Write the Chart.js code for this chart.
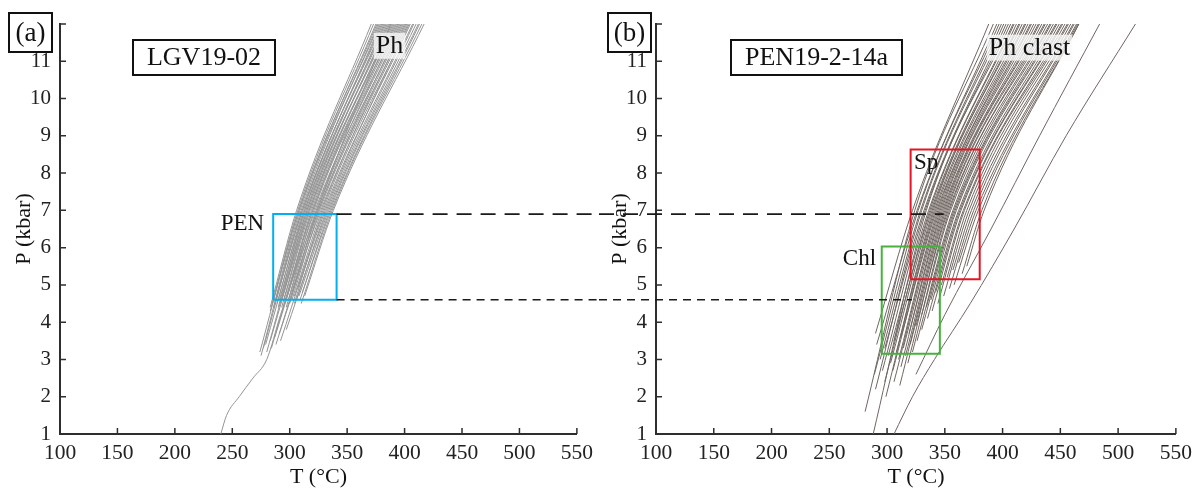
<!DOCTYPE html>
<html>
<head>
<meta charset="utf-8">
<script src="https://cdn.jsdelivr.net/npm/chart.js@4.4.0/dist/chart.umd.min.js"></script>
<style>
  body { margin: 0; background: #fff; }
  #wrap { position: relative; width: 1198px; height: 490px; }
  .panel { position: absolute; top: 0; width: 599px; height: 490px; }
</style>
</head>
<body>
<div id="wrap">
  <div class="panel" style="left:0"><canvas id="chartA"></canvas></div>
  <div class="panel" style="left:599px"><canvas id="chartB"></canvas></div>
</div>
<script>
// axes
const tMin = 100, tMax = 550, tStep = 50;
const pMin = 1, pMax = 12, pStep = 1;

// (a) LGV19-02 : phengite isochores, start point + T at 7 and 12 kbar
const phA_P0  = [4.4, 4.3, 3.2, 4.5, 3.1, 4.4, 4.6, 3.3, 4.5, 4.4, 3.4, 4.6, 4.5, 3.2, 4.7, 4.4, 3.5, 4.6, 4.5, 3.3, 4.7, 4.4, 3.6, 4.6, 4.5, 3.4, 4.8, 4.6, 3.7, 4.7, 4.5, 3.5, 4.9, 4.6, 3.8, 4.7, 4.6, 4.8, 4.5, 4.7];
const phA_T0  = [283, 283, 274, 285, 275, 286, 288, 277, 289, 290, 279, 291, 292, 280, 294, 293, 283, 295, 296, 284, 298, 297, 287, 299, 300, 288, 302, 302, 291, 304, 304, 292, 307, 306, 297, 308, 309, 311, 310, 313];
const phA_T7  = [306, 307, 308, 308, 309, 310, 311, 311, 312, 313, 313, 314, 315, 315, 316, 317, 317, 318, 319, 320, 320, 321, 322, 323, 324, 325, 325, 326, 327, 328, 329, 330, 331, 332, 333, 334, 335, 336, 337, 338];
const phA_T12 = [371, 373, 376, 375, 378, 377, 380, 381, 379, 383, 384, 382, 386, 387, 385, 389, 390, 388, 392, 393, 391, 395, 396, 394, 398, 399, 397, 401, 402, 400, 404, 405, 403, 407, 408, 410, 412, 413, 415, 417];
// the single long isochore down to 1 kbar
const longA_T = [240, 245, 256, 268, 280, 292, 318, 352, 388];
const longA_P = [1, 1.5, 2, 2.5, 3, 4.2, 6.5, 9.3, 12];

// (b) PEN19-2-14a : phengite clast isochores
const phB_P0  = [3.7, 1.6, 3.4, 2.6, 3.0, 2.2, 3.3, 2.7, 1.0, 3.1, 2.4, 3.5, 2.9, 2.0, 3.2, 2.7, 3.6, 3.0, 2.4, 3.3, 2.8, 3.7, 3.1, 2.3, 3.4, 2.9, 3.9, 3.2, 4.2, 3.5, 4.4, 3.8, 4.6, 4.1, 4.8, 4.3, 5.0, 4.5, 5.2, 4.7, 5.4, 4.9, 5.6, 5.0, 5.3, 5.5];
const phB_T0  = [290, 281, 291, 289, 294, 290, 298, 296, 288, 301, 298, 306, 303, 299, 308, 305, 312, 310, 306, 314, 312, 319, 316, 311, 320, 318, 325, 322, 330, 326, 334, 330, 338, 335, 342, 339, 347, 344, 352, 349, 357, 354, 362, 358, 365, 369];
const phB_T7  = [322, 324, 326, 327, 329, 330, 332, 333, 334, 336, 337, 338, 339, 340, 341, 342, 343, 344, 345, 346, 347, 348, 349, 350, 351, 352, 353, 354, 355, 357, 358, 359, 360, 362, 363, 364, 366, 367, 369, 371, 373, 375, 377, 379, 382, 384];
const phB_T12 = [388, 392, 395, 397, 399, 401, 403, 405, 407, 409, 410, 412, 414, 415, 417, 419, 420, 422, 424, 425, 427, 429, 431, 432, 434, 436, 437, 439, 441, 442, 444, 446, 447, 449, 451, 452, 454, 456, 457, 459, 461, 462, 464, 465, 466, 466];
// two hotter isochores on the right
const outB1_T = [306, 322, 341, 372, 410, 455, 515];
const outB1_P = [1, 2, 3, 4.5, 6.5, 9, 12];
const outB2_T = [325, 350, 390, 432, 484];
const outB2_P = [2.6, 4.2, 6.5, 9, 12];

// boxes [Tmin, Tmax], [Pmin, Pmax]
const penBoxT = [285.6, 340.8], penBoxP = [4.6, 6.9];
const chlBoxT = [295.4, 345.7], chlBoxP = [3.15, 6.03];
const spBoxT  = [320.4, 380.2], spBoxP  = [5.15, 8.63];
// dashed links at the PEN box P limits, and where they stop in (b)
const linkP  = [6.9, 4.6];
const linkEndB = [349, 321.5];

const serif = '"Liberation Serif", "Times New Roman", serif';
const axisColor = '#2e2e2e';
const grayA = 'rgb(148,148,148)';
const grayB = 'rgb(112,102,97)';

function line(T, P, color, width, order) {
  return {
    data: T.map((t, i) => ({ x: t, y: P[i] })),
    showLine: true, borderColor: color, borderWidth: width,
    pointRadius: 0, fill: false, order: order,
    cubicInterpolationMode: 'monotone'
  };
}
function box(T, P, color, width) {
  const d = line([T[0], T[1], T[1], T[0], T[0]], [P[0], P[0], P[1], P[1], P[0]], color, width, 0);
  d.cubicInterpolationMode = 'default';
  d.tension = 0;
  return d;
}
function bundle(P0, T0, T7, T12, color) {
  return P0.map((p, i) => line([T0[i], T7[i], T12[i]], [p, 7, 12], color, 1, 1));
}

// inward tick marks (the reference has them inside the axes)
const inwardTicks = {
  id: 'inwardTicks',
  afterDraw(chart) {
    const { ctx, chartArea: a, scales: { x, y } } = chart;
    ctx.save();
    ctx.strokeStyle = axisColor;
    ctx.lineWidth = 1.5;
    ctx.beginPath();
    x.ticks.forEach(t => {
      const px = x.getPixelForValue(t.value);
      ctx.moveTo(px, a.bottom); ctx.lineTo(px, a.bottom - 6);
    });
    y.ticks.forEach(t => {
      const py = y.getPixelForValue(t.value);
      ctx.moveTo(a.left, py); ctx.lineTo(a.left + 6, py);
    });
    ctx.stroke();
    ctx.restore();
  }
};

function framed(ctx, text, x, y, w, h, size) {
  ctx.fillStyle = '#fff';
  ctx.fillRect(x, y, w, h);
  ctx.strokeStyle = '#111';
  ctx.lineWidth = 2;
  ctx.strokeRect(x, y, w, h);
  ctx.fillStyle = '#111';
  ctx.font = size + 'px ' + serif;
  ctx.textAlign = 'center';
  ctx.textBaseline = 'middle';
  ctx.fillText(text, x + w / 2, y + h / 2 + 1);
}
function label(ctx, text, px, py, size, align, shade) {
  ctx.font = size + 'px ' + serif;
  ctx.textAlign = align;
  ctx.textBaseline = 'alphabetic';
  if (shade) {
    const w = ctx.measureText(text).width;
    const x0 = align === 'right' ? px - w : px;
    ctx.fillStyle = 'rgba(250,250,250,0.78)';
    ctx.fillRect(x0 - 2, py - size * 0.78, w + 4, size * 1.0);
  }
  ctx.fillStyle = '#111';
  ctx.fillText(text, px, py);
}
function dashed(ctx, x0, x1, py, dash) {
  ctx.save();
  ctx.strokeStyle = '#1a1a1a';
  ctx.lineWidth = 1.6;
  ctx.setLineDash(dash);
  ctx.beginPath();
  ctx.moveTo(x0, py); ctx.lineTo(x1, py);
  ctx.stroke();
  ctx.restore();
}

const notesA = {
  id: 'notesA',
  afterDatasetsDraw(chart) {
    const { ctx, scales: { x, y } } = chart;
    ctx.save();
    const xr = x.getPixelForValue(penBoxT[1]);
    dashed(ctx, xr, chart.width, y.getPixelForValue(linkP[0]), [15, 9]);
    dashed(ctx, xr, chart.width, y.getPixelForValue(linkP[1]), [8, 6]);
    framed(ctx, '(a)', 9, 13, 43, 39, 27);
    framed(ctx, 'LGV19-02', 133, 40, 142, 35, 26);
    label(ctx, 'Ph', x.getPixelForValue(375), y.getPixelForValue(11.22), 26, 'left', true);
    label(ctx, 'PEN', x.getPixelForValue(277.8), y.getPixelForValue(6.47), 23, 'right', false);
    ctx.restore();
  }
};
const notesB = {
  id: 'notesB',
  afterDatasetsDraw(chart) {
    const { ctx, scales: { x, y } } = chart;
    ctx.save();
    dashed(ctx, 0, x.getPixelForValue(linkEndB[0]), y.getPixelForValue(linkP[0]), [15, 9]);
    dashed(ctx, 0, x.getPixelForValue(linkEndB[1]), y.getPixelForValue(linkP[1]), [8, 6]);
    framed(ctx, '(b)', 9, 13, 43, 39, 27);
    framed(ctx, 'PEN19-2-14a', 132, 40, 171, 35, 26);
    label(ctx, 'Ph clast', x.getPixelForValue(388), y.getPixelForValue(11.17), 26, 'left', true);
    label(ctx, 'Sp', x.getPixelForValue(323.3), y.getPixelForValue(8.11), 23, 'left', false);
    label(ctx, 'Chl', x.getPixelForValue(290.5), y.getPixelForValue(5.53), 23, 'right', false);
    ctx.restore();
  }
};

function options(yWidth, titlePad) {
  return {
    responsive: true,
    maintainAspectRatio: false,
    animation: false,
    events: [],
    layout: { padding: { left: 0, right: 20, top: 24, bottom: 0 } },
    plugins: { legend: { display: false }, tooltip: { enabled: false } },
    scales: {
      x: {
        type: 'linear', min: tMin, max: tMax,
        afterFit(s) { s.height = 56; },
        grid: { display: false, drawTicks: false },
        border: { display: true, color: axisColor, width: 2 },
        ticks: {
          stepSize: tStep, autoSkip: false, maxRotation: 0, padding: 6,
          color: '#222', font: { family: serif, size: 21.5 }
        },
        title: {
          display: true, text: 'T (°C)', color: '#111',
          font: { family: serif, size: 22 }, padding: { top: 0, bottom: 0 }
        }
      },
      y: {
        type: 'linear', min: pMin, max: pMax,
        afterFit(s) { s.width = yWidth; },
        grid: { display: false, drawTicks: false },
        border: { display: true, color: axisColor, width: 2 },
        ticks: {
          stepSize: pStep, padding: 9, color: '#222',
          font: { family: serif, size: 21 },
          callback: v => (v === pMax ? '' : v)
        },
        title: {
          display: true, text: 'P (kbar)', color: '#111',
          font: { family: serif, size: 22 }, padding: { top: titlePad, bottom: 0 }
        }
      }
    }
  };
}

new Chart(document.getElementById('chartA'), {
  type: 'scatter',
  data: {
    datasets: [
      box(penBoxT, penBoxP, 'rgb(0,176,240)', 2),
      line(longA_T, longA_P, grayA, 1, 1),
      ...bundle(phA_P0, phA_T0, phA_T7, phA_T12, grayA)
    ]
  },
  options: options(60, 11),
  plugins: [inwardTicks, notesA]
});

new Chart(document.getElementById('chartB'), {
  type: 'scatter',
  data: {
    datasets: [
      box(spBoxT, spBoxP, 'rgb(228,22,36)', 2),
      box(chlBoxT, chlBoxP, 'rgb(70,178,60)', 2),
      line(outB1_T, outB1_P, grayB, 1, 1),
      line(outB2_T, outB2_P, grayB, 1, 1),
      ...bundle(phB_P0, phB_T0, phB_T7, phB_T12, grayB)
    ]
  },
  options: options(57, 8),
  plugins: [inwardTicks, notesB]
});
</script>
</body>
</html>
